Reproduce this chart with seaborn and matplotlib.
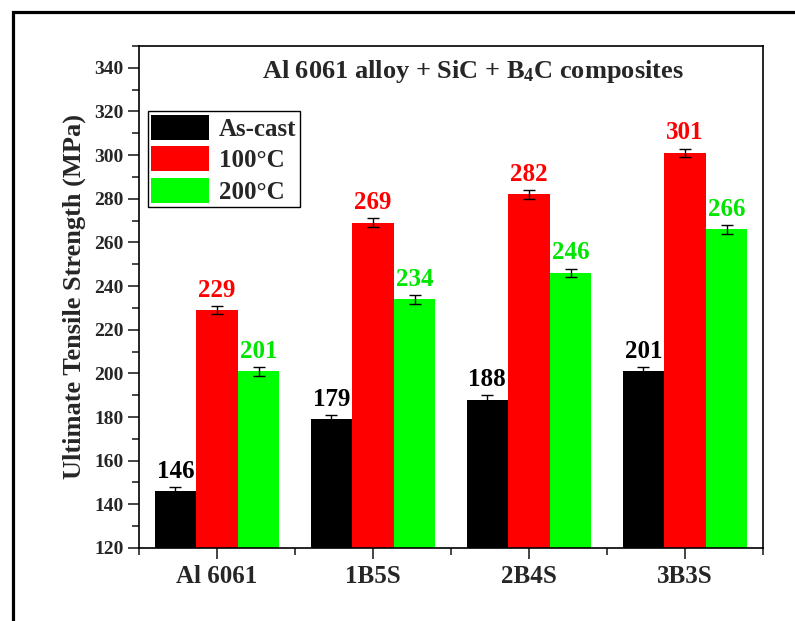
import numpy as np
import pandas as pd
import matplotlib
matplotlib.use('Agg')
import matplotlib.pyplot as plt
import seaborn as sns
from matplotlib.patches import Rectangle
from matplotlib.ticker import MultipleLocator, FixedLocator

# data
samples = ['Al 6061', '1B5S', '2B4S', '3B3S']
conditions = ['As-cast', '100°C', '200°C']
as_cast = [146, 179, 188, 201]
temp_100 = [229, 269, 282, 301]
temp_200 = [201, 234, 246, 266]
err_as_cast = [2, 2, 2, 2]
err_100 = [2, 2, 2, 2]
err_200 = [2, 2, 2, 2]

colors = ['#000000', '#ff0000', '#00ff00']
text_colors = ['#000000', '#ff0000', '#00e600']

df = pd.DataFrame({
	'sample': samples * 3,
	'condition': [c for c in conditions for _ in samples],
	'uts': as_cast + temp_100 + temp_200,
})
errs = [err_as_cast, err_100, err_200]

sns.set_style('ticks')
plt.rcParams['font.family'] = ['Liberation Serif', 'DejaVu Serif']
plt.rcParams['font.weight'] = 'bold'
plt.rcParams['mathtext.fontset'] = 'custom'
plt.rcParams['mathtext.bf'] = 'Liberation Serif:bold'
plt.rcParams['mathtext.rm'] = 'Liberation Serif:bold'
plt.rcParams['mathtext.default'] = 'bf'

fig = plt.figure(figsize=(7.95, 6.21), dpi=100)
ax = fig.add_axes([0.1748, 0.1176, 0.7849, 0.8083])

sns.barplot(data=df, x='sample', y='uts', hue='condition', palette=colors,
			errorbar=None, width=0.8, linewidth=0, saturation=1, ax=ax)

bar_groups = list(ax.containers)
for i, cont in enumerate(bar_groups):
	xs = [p.get_x() + p.get_width() / 2 for p in cont.patches]
	ys = [p.get_height() for p in cont.patches]
	ax.errorbar(xs, ys, yerr=errs[i], fmt='none', ecolor='black',
				elinewidth=1, capsize=4, capthick=1)
	for x, y, e in zip(xs, ys, errs[i]):
		ax.annotate('%d' % y, (x, y + e), xytext=(0, 3), textcoords='offset points',
					ha='center', va='bottom', fontsize=18, fontweight='bold',
					color=text_colors[i])

ax.set_ylim(120, 350)
ax.set_xlim(-0.5, 3.5)
ax.yaxis.set_major_locator(MultipleLocator(20))
ax.yaxis.set_minor_locator(MultipleLocator(10))
ax.xaxis.set_minor_locator(FixedLocator([-0.5, 0.5, 1.5, 2.5, 3.5]))
ax.tick_params(axis='both', which='major', length=8, width=1.2, direction='out')
ax.tick_params(axis='both', which='minor', length=5, width=1.2, direction='out')
ax.tick_params(axis='y', labelsize=14, pad=3)
ax.tick_params(axis='x', labelsize=18, pad=4)
for s in ax.spines.values():
	s.set_linewidth(1.2)
	s.set_color('black')

ax.set_xlabel('')
ax.set_ylabel('Ultimate Tensile Strength (MPa)', fontsize=19, fontweight='bold', labelpad=6)

ax.text(0.535, 0.95, 'Al 6061 alloy + SiC + B$_4$C composites', transform=ax.transAxes,
		ha='center', va='center', fontsize=19, fontweight='bold')

leg = ax.legend(loc='upper left', bbox_to_anchor=(0.014, 0.87), fontsize=18,
				frameon=True, fancybox=False, edgecolor='black', framealpha=1,
				handlelength=2.3, handleheight=1.15, labelspacing=0.22,
				borderpad=0.15, handletextpad=0.4, borderaxespad=0)
leg.get_frame().set_linewidth(1)
for t in leg.get_texts():
	t.set_fontweight('bold')

# outer frame of the picture
fig.patches.append(Rectangle((13 / 795, -0.2), 1.2, 1.2 - 12 / 621, transform=fig.transFigure,
							 fill=False, edgecolor='black', linewidth=2.3, figure=fig))

fig.savefig('out.png', dpi=100)
